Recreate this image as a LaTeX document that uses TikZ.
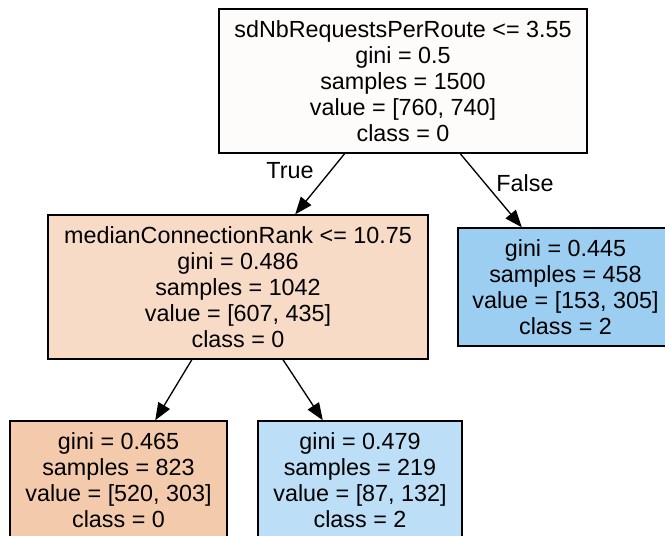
\documentclass[tikz,border=0pt]{standalone}
\usepackage{fontspec}
\setmainfont{Liberation Sans}
\usetikzlibrary{arrows.meta,calc}

% colores de las hojas
\definecolor{fillRoot}{HTML}{FEFCFA}
\definecolor{fillMid}{HTML}{F8DBC7}
\definecolor{fillRight}{HTML}{9CCEF2}
\definecolor{fillLL}{HTML}{F4CAAC}
\definecolor{fillLR}{HTML}{BCDEF6}

\begin{document}
\begin{tikzpicture}[x=0.75pt,y=-0.75pt]
	
	% --- parámetros ---
	\def\PX{0.75pt}
	
	% estilos
	\tikzset{
		box/.style   = {draw, line width=1pt, rectangle, align=center, inner sep=0pt,
			font=\fontsize{17.5}{19.5}\selectfont},
		inner/.style = {box, minimum height=144*\PX},
		leaf/.style  = {box, minimum height=118*\PX},
		edge/.style  = {-{Triangle[length=13pt,width=10pt]}, line width=1pt},
		lbl/.style   = {inner sep=0pt, font=\fontsize{17.5}{19.5}\selectfont},
	}
	
	\useasboundingbox (0,0) rectangle (665,536);
	
	% nodos
	\node[inner, fill=fillRoot, minimum width=368*\PX] (root) at (403,81)
		{sdNbRequestsPerRoute <= 3.55\\gini = 0.5\\samples = 1500\\value = [760, 740]\\class = 0};
	\node[inner, fill=fillMid, minimum width=380*\PX] (mid) at (238,287)
		{medianConnectionRank <= 10.75\\gini = 0.486\\samples = 1042\\value = [607, 435]\\class = 0};
	\node[leaf, fill=fillRight, minimum width=215*\PX] (right) at (565.5,287)
		{gini = 0.445\\samples = 458\\value = [153, 305]\\class = 2};
	\node[leaf, fill=fillLL, minimum width=217*\PX] (ll) at (118.5,480)
		{gini = 0.465\\samples = 823\\value = [520, 303]\\class = 0};
	\node[leaf, fill=fillLR, minimum width=204*\PX] (lr) at (360,480)
		{gini = 0.479\\samples = 219\\value = [87, 132]\\class = 2};
	
	% aristas
	\draw[edge] ($(root.south west)!.342!(root.south east)$) -- ($(mid.north west)!.65!(mid.north east)$);
	\draw[edge] ($(root.south west)!.655!(root.south east)$) -- ($(right.north west)!.298!(right.north east)$);
	\draw[edge] ($(mid.south west)!.379!(mid.south east)$) -- ($(ll.north west)!.668!(ll.north east)$);
	\draw[edge] ($(mid.south west)!.618!(mid.south east)$) -- ($(lr.north west)!.319!(lr.north east)$);
	
	% etiquetas True / False
	\node[lbl] (tTrue) at (290,171) {True};
	\node[lbl] (tFalse) at (525,183) {False};
	
\end{tikzpicture}
\end{document}
